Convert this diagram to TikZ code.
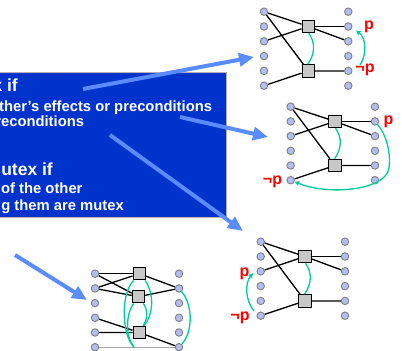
\documentclass[tikz,border=0pt]{standalone}
\usepackage{fontspec}
\setmainfont{Liberation Sans}
\usetikzlibrary{arrows.meta}
\definecolor{boxblue}{RGB}{0,51,204}
\definecolor{arrblue}{RGB}{90,140,255}
\definecolor{mgreen}{RGB}{0,204,153}
\definecolor{ptfill}{RGB}{180,188,240}
\definecolor{ptdraw}{RGB}{128,128,128}
\definecolor{sqfill}{RGB}{200,200,200}
\definecolor{lblred}{RGB}{255,0,0}
\tikzset{
  pt/.style={circle, draw=ptdraw, fill=ptfill, line width=0.9pt, minimum size=7.5pt, inner sep=0pt},
  act/.style={rectangle, draw=black, fill=sqfill, line width=1pt, minimum size=12.5pt, inner sep=0pt},
  edge/.style={draw=black, line width=1.3pt},
  noop/.style={draw=gray!70, line width=1.3pt},
  mutex/.style={draw=mgreen, line width=1.3pt},
  mutexarrow/.style={draw=mgreen, line width=1.3pt, -{Triangle[length=4.5pt,width=4.5pt]}},
  bigarrow/.style={draw=arrblue, line width=4pt, -{Triangle[length=15pt,width=13pt]}},
  headtxt/.style={text=white, font=\fontsize{17.5}{21}\selectfont\bfseries, inner sep=0pt, anchor=base east},
  subtxt/.style={text=white, font=\fontsize{14.8}{17}\selectfont\bfseries, inner sep=0pt, anchor=base east},
  lbl/.style={text=lblred, font=\fontsize{16}{19}\selectfont\bfseries, inner sep=0pt},
}
\begin{document}
\begin{tikzpicture}[x=1pt,y=-1pt]
\useasboundingbox (0,0) rectangle (402,351);

% blue text box
\node[draw=gray!60, line width=1pt, fill=boxblue, minimum width=230pt, minimum height=145pt, inner sep=0pt, anchor=north west] (box) at (-4,72) {};
\node[headtxt] (h1) at (18,91.5) {x if};
\node[subtxt] (s1) at (212.3,111) {ther’s effects or preconditions};
\node[subtxt] (s2) at (84.3,126.7) {reconditions};
\node[headtxt] (h2) at (53,175.5) {utex if};
\node[subtxt] (s3) at (82.7,193.3) {of the other};
\node[subtxt] (s4) at (124,210.7) {g them are mutex};

% ---------- graph 1 (top right)
\foreach \i in {1,...,6} {
  \node[pt] (g1l\i) at (264, {11.7+(\i-1)*14.8}) {};
  \node[pt] (g1r\i) at (348.3, {11.7+(\i-1)*14.8}) {};
}
\node[act] (g1a) at (308.3,26.5) {};
\node[act] (g1b) at (308.3,70.9) {};
\draw[edge] (g1l1) -- (g1a);
\draw[edge] (g1l1) -- (g1b);
\draw[edge] (g1l3) -- (g1a);
\draw[edge] (g1l6) -- (g1b);
\draw[edge] (g1a) -- (g1r2);
\draw[edge] (g1a) -- (g1r3);
\draw[edge] (g1b) -- (g1r5);
\draw[mutex] ([xshift=0.5pt]g1a.south) .. controls +(7,10) and +(7,-10) .. ([xshift=-0.5pt]g1b.north);
\coordinate (g1s) at (360,65);
\coordinate (g1e) at (356,30.5);
\draw[mutexarrow] (g1s) .. controls (367,55) and (366,38) .. (g1e);
\node[lbl] (g1p) at (369,27) {p};
\node[lbl] (g1np) at (365,70) {¬p};

% ---------- graph 2 (middle right)
\foreach \i in {1,...,6} {
  \node[pt] (g2l\i) at (290.7, {106.7+(\i-1)*14.7}) {};
  \node[pt] (g2r\i) at (375, {106.7+(\i-1)*14.7}) {};
}
\node[act] (g2a) at (335,121.4) {};
\node[act] (g2b) at (335,165.5) {};
\draw[edge] (g2l1) -- (g2a);
\draw[edge] (g2l1) -- (g2b);
\draw[edge] (g2l3) -- (g2a);
\draw[edge] (g2l6) -- (g2b);
\draw[edge] (g2a) -- (g2r2);
\draw[edge] (g2a) -- (g2r3);
\draw[edge] (g2b) -- (g2r5);
\draw[mutex] ([xshift=0.5pt]g2a.south) .. controls +(7,10) and +(7,-10) .. ([xshift=-0.5pt]g2b.north);
\coordinate (g2s) at (377.5,124.5);
\coordinate (g2m) at (389,168);
\draw[mutexarrow] (g2s) .. controls (386,134) and (391,152) .. (g2m) .. controls (386,190) and (330,196) .. (g2l6);
\node[lbl] (g2p) at (388.5,122) {p};
\node[lbl] (g2np) at (272.5,182) {¬p};

% ---------- graph 3 (bottom right)
\foreach \i in {1,...,6} {
  \node[pt] (g3l\i) at (260.7, {241.7+(\i-1)*14.8}) {};
  \node[pt] (g3r\i) at (345, {241.7+(\i-1)*14.8}) {};
}
\node[act] (g3a) at (305,256.5) {};
\node[act] (g3b) at (305,300.9) {};
\draw[edge] (g3l1) -- (g3a);
\draw[edge] (g3l1) -- (g3b);
\draw[edge] (g3l3) -- (g3a);
\draw[edge] (g3l6) -- (g3b);
\draw[edge] (g3a) -- (g3r2);
\draw[edge] (g3a) -- (g3r3);
\draw[edge] (g3b) -- (g3r5);
\draw[mutex] ([xshift=0.5pt]g3a.south) .. controls +(7,10) and +(7,-10) .. ([xshift=-0.5pt]g3b.north);
\coordinate (g3s) at (254,311);
\coordinate (g3e) at (253,273);
\draw[mutexarrow] (g3s) .. controls (245,300) and (245,283) .. (g3e);
\node[lbl] (g3p) at (244.5,274) {p};
\node[lbl] (g3np) at (240,318) {¬p};

% ---------- graph 4 (bottom left)
\foreach \i in {1,...,6} {
  \node[pt] (g4l\i) at (95, {273.7+(\i-1)*14.7}) {};
  \node[pt] (g4r\i) at (179, {273.7+(\i-1)*14.7}) {};
}
\node[act] (g4a) at (139.3,273.7) {};
\node[act] (g4b) at (138.5,296.7) {};
\node[act] (g4c) at (139.3,332.5) {};
\draw[noop] (g4l6) -- (g4r6);
\draw[edge] (g4l1) -- (g4a);
\draw[edge] (g4l1) -- (g4b);
\draw[edge] (g4l2) -- (g4a);
\draw[edge] (g4l2) -- (g4b);
\draw[edge] (g4a) -- (g4r2);
\draw[edge] (g4b) -- (g4r2);
\draw[edge] (g4l4) -- (g4c);
\draw[edge] (g4l5) -- (g4c);
\draw[edge] (g4c) -- (g4r6);
\coordinate (g4bot) at (134,347.2);
\draw[mutex] ([xshift=1pt]g4a.south west) .. controls (120,295) and (122,335) .. (g4bot);
\draw[mutex] ([xshift=2pt]g4b.south west) .. controls (125,315) and (126,338) .. (g4bot);
\draw[mutex] ([xshift=-1pt]g4a.south east) .. controls (155,295) and (153,315) .. ([xshift=-2pt]g4c.north east);
\draw[mutex] ([xshift=-2pt]g4b.south east) .. controls (148,310) and (148,318) .. ([xshift=-3pt]g4c.north east);
\draw[mutex] (g4r2) .. controls (193,305) and (193,332) .. (g4r6);

% ---------- blue arrows
\coordinate (a1s) at (83,89);   \coordinate (a1e) at (254,57);
\coordinate (a2s) at (180,117); \coordinate (a2e) at (268,137);
\coordinate (a3s) at (110,135); \coordinate (a3e) at (243,231);
\coordinate (a4s) at (15,255);  \coordinate (a4e) at (87,300);
\draw[bigarrow] (a1s) -- (a1e);
\draw[bigarrow] (a2s) -- (a2e);
\draw[bigarrow] (a3s) -- (a3e);
\draw[bigarrow] (a4s) -- (a4e);
\end{tikzpicture}
\end{document}
